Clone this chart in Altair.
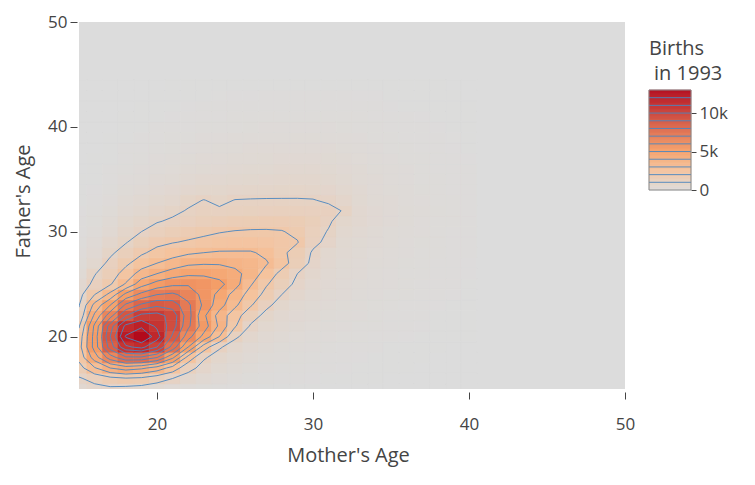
import altair as alt
import numpy as np
import pandas as pd

# ---------------- data ----------------
mother_ages = list(range(15, 41))      # grid columns
father_ages = list(range(15, 45))      # grid rows
# births per (father row, mother column), in hundreds
births_hundreds = [
    [5, 7, 8, 7, 6, 4.5, 3, 2, 1.5, 1.1, 0.8, 0.6, 0.5, 0.4, 0.3, 0.25, 0.2, 0.15, 0.12, 0.1, 0.08, 0.06, 0.05, 0.04, 0.03, 0.02],
    [9, 13, 17, 19, 18, 14, 10, 6, 4, 2.8, 2, 1.5, 1.1, 0.9, 0.7, 0.55, 0.45, 0.35, 0.3, 0.25, 0.2, 0.15, 0.12, 0.1, 0.08, 0.06],
    [16, 29, 40, 45, 42, 36, 26, 13, 7, 4.5, 3.2, 2.4, 1.8, 1.4, 1.1, 0.9, 0.7, 0.55, 0.45, 0.35, 0.3, 0.24, 0.2, 0.16, 0.12, 0.1],
    [23, 45, 65, 78, 78, 70, 52, 26, 11, 6.5, 4.5, 3.3, 2.5, 1.9, 1.5, 1.2, 0.95, 0.75, 0.6, 0.5, 0.4, 0.32, 0.26, 0.2, 0.16, 0.12],
    [26, 54, 85, 108, 113, 100, 76, 50, 25, 11, 6, 4.3, 3.2, 2.5, 2, 1.6, 1.25, 1, 0.8, 0.65, 0.5, 0.4, 0.32, 0.26, 0.2, 0.15],
    [24, 54, 90, 121, 130, 115, 88, 64, 47, 30, 11.5, 6, 4.2, 3.2, 2.6, 2.1, 1.7, 1.35, 1.1, 0.9, 0.7, 0.55, 0.45, 0.35, 0.28, 0.22],
    [19, 52, 85, 113, 118, 108, 95, 72, 55, 38, 21, 9, 5.5, 4, 3.2, 2.6, 2.1, 1.7, 1.4, 1.1, 0.9, 0.7, 0.55, 0.45, 0.35, 0.28],
    [12, 42, 66, 90, 103, 104, 96, 74, 52, 36, 24, 14, 7.5, 5, 3.8, 3.1, 2.5, 2, 1.6, 1.3, 1, 0.8, 0.65, 0.5, 0.4, 0.32],
    [9.5, 33, 50, 72, 82, 88, 86, 72, 58, 44, 32, 21, 12, 6.5, 4.5, 3.6, 2.9, 2.3, 1.9, 1.5, 1.2, 0.95, 0.75, 0.6, 0.48, 0.38],
    [7, 20, 33, 53, 63, 70, 72, 66, 57, 47, 36, 26, 17, 10, 6, 4.3, 3.4, 2.7, 2.2, 1.8, 1.4, 1.1, 0.9, 0.7, 0.55, 0.44],
    [5, 12, 19, 31, 46, 54, 58, 59, 57, 53, 44, 31, 21, 14, 8, 5, 3.8, 3, 2.5, 2, 1.6, 1.3, 1, 0.8, 0.62, 0.5],
    [3.5, 9.5, 15, 24, 34, 40, 45, 48, 48, 46, 43, 36, 26, 17, 10, 6, 4.2, 3.3, 2.7, 2.2, 1.8, 1.4, 1.1, 0.9, 0.7, 0.55],
    [2.5, 5.5, 12, 18, 25, 30, 34, 38, 39, 39, 37, 35, 31, 24, 15, 8, 5, 3.6, 2.9, 2.4, 1.9, 1.5, 1.2, 0.95, 0.75, 0.6],
    [1.8, 3.8, 8.5, 13.5, 18.5, 23, 26, 28.5, 30, 31, 31, 31, 28, 22, 16, 9, 5.5, 4, 3.2, 2.6, 2.1, 1.7, 1.35, 1.05, 0.85, 0.68],
    [1.3, 2.7, 6, 9.5, 14, 17.5, 19.5, 21, 22.5, 24, 24.5, 24.5, 23.5, 21.5, 20.5, 12, 8, 4.6, 3.6, 2.9, 2.3, 1.8, 1.45, 1.15, 0.9, 0.72],
    [1, 2, 4.3, 7.5, 10, 13, 15, 16.5, 18, 19.5, 20.5, 21, 21, 20.5, 18, 13, 9.5, 5.2, 4, 3.2, 2.5, 2, 1.6, 1.25, 1, 0.8],
    [0.8, 1.5, 3.2, 5.6, 7.5, 9.5, 11, 12, 13.5, 14.5, 15.5, 16, 16.5, 16.5, 16, 14, 11, 6.5, 4.8, 3.7, 2.9, 2.3, 1.8, 1.4, 1.1, 0.9],
    [0.6, 1.1, 2.4, 4.2, 5.5, 7, 8.5, 10.5, 11.5, 11, 11.5, 11.8, 12, 12.5, 12.5, 12, 12, 9.5, 5, 3.8, 3, 2.4, 1.9, 1.5, 1.2, 0.95],
    [0.45, 0.8, 1.7, 3.1, 4, 5.2, 6.3, 8.5, 10.2, 8.5, 10.2, 10.4, 10.5, 10.5, 10.5, 10.3, 9, 7, 4.5, 3.4, 2.7, 2.2, 1.7, 1.35, 1.1, 0.85],
    [0.35, 0.6, 1.2, 2.3, 3, 3.9, 4.7, 5.8, 6.5, 6.5, 7, 7.3, 7.5, 7.7, 7.8, 7.6, 6.8, 5.5, 4, 3, 2.4, 1.9, 1.5, 1.2, 0.95, 0.75],
    [0.25, 0.45, 0.9, 1.7, 2.2, 2.9, 3.5, 4.2, 4.8, 5, 5.3, 5.6, 5.8, 6, 6.1, 6, 5.4, 4.5, 3.5, 2.8, 2.2, 1.75, 1.4, 1.1, 0.85, 0.7],
    [0.2, 0.35, 0.65, 1.2, 1.6, 2.1, 2.6, 3.1, 3.6, 3.9, 4.2, 4.4, 4.6, 4.8, 4.9, 4.9, 4.5, 3.9, 3.1, 2.5, 2, 1.6, 1.3, 1, 0.8, 0.65],
    [0.15, 0.25, 0.5, 0.9, 1.2, 1.6, 2, 2.4, 2.8, 3, 3.3, 3.5, 3.6, 3.8, 3.9, 3.9, 3.6, 3.2, 2.6, 2.1, 1.7, 1.4, 1.1, 0.9, 0.7, 0.55],
    [0.1, 0.2, 0.35, 0.65, 0.9, 1.2, 1.5, 1.8, 2.1, 2.3, 2.5, 2.7, 2.8, 2.9, 3, 3, 2.8, 2.5, 2.1, 1.7, 1.4, 1.15, 0.9, 0.75, 0.6, 0.48],
    [0.08, 0.15, 0.25, 0.5, 0.7, 0.9, 1.1, 1.35, 1.6, 1.75, 1.9, 2, 2.1, 2.2, 2.3, 2.3, 2.2, 2, 1.7, 1.4, 1.15, 0.95, 0.78, 0.64, 0.52, 0.42],
    [0.06, 0.1, 0.2, 0.35, 0.5, 0.65, 0.8, 1, 1.2, 1.3, 1.4, 1.5, 1.6, 1.7, 1.75, 1.75, 1.7, 1.55, 1.35, 1.15, 0.95, 0.8, 0.66, 0.55, 0.45, 0.37],
    [0.04, 0.08, 0.14, 0.25, 0.36, 0.48, 0.6, 0.75, 0.9, 1, 1.05, 1.1, 1.2, 1.25, 1.3, 1.3, 1.3, 1.2, 1.05, 0.9, 0.75, 0.63, 0.53, 0.45, 0.37, 0.3],
    [0.03, 0.05, 0.1, 0.18, 0.26, 0.35, 0.45, 0.55, 0.65, 0.72, 0.78, 0.82, 0.88, 0.92, 0.95, 0.96, 0.95, 0.9, 0.8, 0.7, 0.58, 0.5, 0.42, 0.36, 0.3, 0.25],
    [0.02, 0.04, 0.07, 0.13, 0.19, 0.25, 0.32, 0.4, 0.47, 0.52, 0.56, 0.6, 0.64, 0.67, 0.7, 0.71, 0.7, 0.66, 0.6, 0.53, 0.45, 0.38, 0.32, 0.28, 0.23, 0.2],
    [0.01, 0.03, 0.05, 0.09, 0.13, 0.18, 0.23, 0.28, 0.33, 0.37, 0.4, 0.43, 0.46, 0.48, 0.5, 0.51, 0.5, 0.48, 0.44, 0.39, 0.33, 0.28, 0.24, 0.21, 0.17, 0.15],
]
contour_levels = [1000, 2000, 3000, 4000, 5000, 6000, 7000, 8000, 9000, 10000, 11000, 12000]
axis_ticks = [20, 30, 40, 50]
axis_range = [15, 50]
colorbar_ticks = [0, 5000, 10000]
z_max = 13000
reds_stops = [0, 0.2, 0.4, 1]
reds_colors = ["rgb(220,220,220)", "rgb(245,195,157)", "rgb(245,160,105)", "rgb(178,10,28)"]

# ---------------- tables built from the arrays ----------------
heat_rows = []
for j, f in enumerate(father_ages):
    for i, m in enumerate(mother_ages):
        heat_rows.append({"x0": m - 0.5, "x1": m + 0.5, "y0": f - 0.5, "y1": f + 0.5,
                          "z": births_hundreds[j][i] * 100})
heat_df = pd.DataFrame(heat_rows)

# contour segments (marching squares on the grid; cells not listed count as 0)
full_ages = list(range(axis_range[0], axis_range[1] + 1))
n = len(full_ages)
G = np.zeros((n, n))
for j in range(len(father_ages)):
    for i in range(len(mother_ages)):
        G[j, i] = births_hundreds[j][i] * 100

seg_rows = []
for L in contour_levels:
    for j in range(n - 1):
        for i in range(n - 1):
            a, b, c, d = G[j, i], G[j, i + 1], G[j + 1, i + 1], G[j + 1, i]
            sa, sb, sc, sd = a >= L, b >= L, c >= L, d >= L
            pts = {}
            if sa != sb:
                pts["B"] = (i + (L - a) / (b - a), j)
            if sb != sc:
                pts["R"] = (i + 1, j + (L - b) / (c - b))
            if sd != sc:
                pts["T"] = (i + (L - d) / (c - d), j + 1)
            if sa != sd:
                pts["L"] = (i, j + (L - a) / (d - a))
            pairs = []
            if len(pts) == 2:
                k = list(pts.keys())
                pairs = [(k[0], k[1])]
            elif len(pts) == 4:
                center = (a + b + c + d) / 4
                if (center >= L) == sa:
                    pairs = [("B", "R"), ("T", "L")]
                else:
                    pairs = [("B", "L"), ("T", "R")]
            for p, q in pairs:
                seg_rows.append({"x0": full_ages[0] + pts[p][0], "y0": full_ages[0] + pts[p][1],
                                 "x1": full_ages[0] + pts[q][0], "y1": full_ages[0] + pts[q][1],
                                 "level": L})
seg_df = pd.DataFrame(seg_rows)

cbar_df = pd.DataFrame({"v": np.arange(0, z_max, 100)})
cbar_df["v2"] = cbar_df["v"] + 100
cbar_df["vm"] = cbar_df["v"] + 50
levels_df = pd.DataFrame({"v": contour_levels})
outline_df = pd.DataFrame({"v": [0], "v2": [z_max]})

# ---------------- chart ----------------
FONT = "Open Sans"
TXT = "#444444"
LINE = "#4a86c0"
W, H = 546, 367

color_scale = alt.Scale(domain=[s * z_max for s in reds_stops], range=reds_colors,
                        interpolate="rgb", clamp=True)
x_scale = alt.Scale(domain=axis_range, nice=False, zero=False)
y_scale = alt.Scale(domain=axis_range, nice=False, zero=False)

x_axis = alt.Axis(title="Mother's Age", values=axis_ticks, domain=False, grid=False,
                  ticks=True, tickSize=7, tickColor=TXT, offset=3, labelFlush=False,
                  labelFont=FONT, labelFontSize=17, labelColor=TXT, labelPadding=17,
                  titleFont=FONT, titleFontSize=20, titleColor=TXT, titleFontWeight="normal",
                  titleX=269, titleY=63, titleBaseline="middle", titleAnchor="start", titleAlign="center")
y_axis = alt.Axis(title="Father's Age", values=axis_ticks, domain=False, grid=False,
                  ticks=True, tickSize=7, tickColor=TXT, offset=2, labelFlush=False,
                  labelFont=FONT, labelFontSize=17, labelColor=TXT, labelPadding=3,
                  titleFont=FONT, titleFontSize=20, titleColor=TXT, titleFontWeight="normal",
                  titleX=-53.5, titleY=179, titleAngle=-90, titleBaseline="middle",
                  titleAnchor="start", titleAlign="center")

heat = alt.Chart(heat_df).mark_rect(clip=True, strokeWidth=0.6).encode(
    x=alt.X("x0:Q", scale=x_scale, axis=x_axis),
    x2="x1:Q",
    y=alt.Y("y0:Q", scale=y_scale, axis=y_axis),
    y2="y1:Q",
    color=alt.Color("z:Q", scale=color_scale, legend=None),
    stroke=alt.Stroke("z:Q", scale=color_scale, legend=None),
)

contours = alt.Chart(seg_df).mark_rule(clip=True, color=LINE, strokeWidth=1, opacity=0.9).encode(
    x=alt.X("x0:Q", scale=x_scale, axis=x_axis),
    x2="x1:Q",
    y=alt.Y("y0:Q", scale=y_scale, axis=y_axis),
    y2="y1:Q",
)

main = alt.layer(heat, contours)

# colour bar drawn as a small layered scale
cb_scale = alt.Scale(domain=[0, z_max], range=[168, 68], nice=False, zero=False)
cb_axis = alt.Axis(orient="right", offset=66, values=colorbar_ticks,
                   labelExpr="datum.value == 0 ? '0' : format(datum.value / 1000, 'd') + 'k'",
                   domain=False, grid=False, ticks=True, tickSize=5, tickColor=TXT, labelFlush=False,
                   labelFont=FONT, labelFontSize=17, labelColor=TXT, labelPadding=3, title=None)
CB_X0, CB_X1 = 570, 612

cb_rects = alt.Chart(cbar_df).mark_rect(strokeWidth=0.5).encode(
    x=alt.value(CB_X0), x2=alt.value(CB_X1),
    y=alt.Y("v:Q", scale=cb_scale, axis=cb_axis), y2="v2:Q",
    color=alt.Color("vm:Q", scale=color_scale, legend=None),
    stroke=alt.Stroke("vm:Q", scale=color_scale, legend=None),
)
cb_lines = alt.Chart(levels_df).mark_rule(color=LINE, strokeWidth=1, opacity=0.9).encode(
    x=alt.value(CB_X0), x2=alt.value(CB_X1),
    y=alt.Y("v:Q", scale=cb_scale, axis=cb_axis),
)
cb_outline = alt.Chart(outline_df).mark_rect(filled=False, color="#888888", strokeWidth=1).encode(
    x=alt.value(CB_X0), x2=alt.value(CB_X1),
    y=alt.Y("v:Q", scale=cb_scale, axis=cb_axis), y2="v2:Q",
)
cbar = alt.layer(cb_rects, cb_lines, cb_outline)

t1 = alt.Chart(pd.DataFrame({"t": ["Births"]})).mark_text(
    align="left", baseline="alphabetic", font=FONT, fontSize=20, color=TXT
).encode(x=alt.value(CB_X0), y=alt.value(33), text="t:N")
t2 = alt.Chart(pd.DataFrame({"t": ["in 1993"]})).mark_text(
    align="left", baseline="alphabetic", font=FONT, fontSize=20, color=TXT
).encode(x=alt.value(CB_X0 + 5), y=alt.value(58), text="t:N")

chart = alt.layer(main, cbar, t1, t2).resolve_scale(y="independent").properties(
    width=W, height=H,
    padding={"left": 71, "top": 14, "right": 120, "bottom": 85},
    autosize=alt.AutoSizeParams(type="none"),
    background="white",
).configure_view(strokeWidth=0, fill="#dcdcdc")

chart.save("out.html", embed_options={"renderer": "svg", "actions": False})
